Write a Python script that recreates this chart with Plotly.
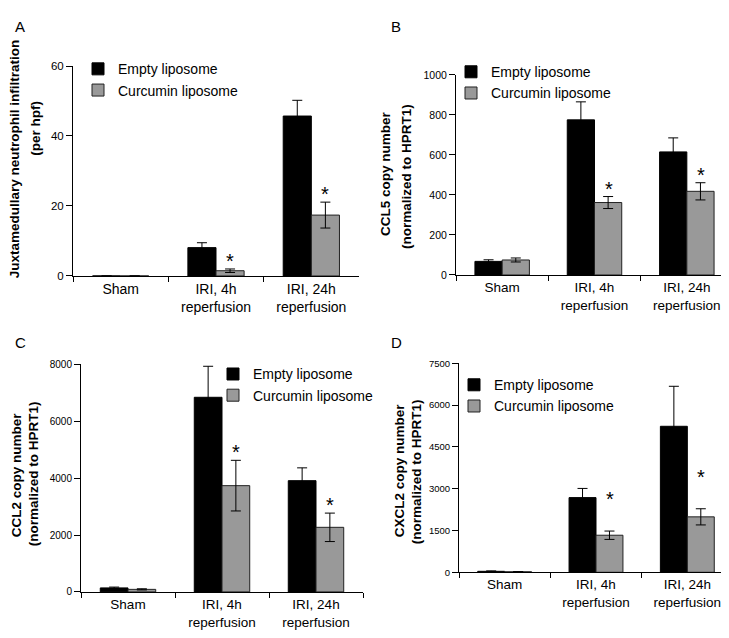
import plotly.graph_objects as go

W, H = 729, 638

categories = ["Sham", "IRI, 4h<br>reperfusion", "IRI, 24h<br>reperfusion"]
series_names = ["Empty liposome", "Curcumin liposome"]

# Panel A: juxtamedullary neutrophil infiltration (per hpf)
a_empty = [0, 8.1, 45.7]
a_empty_err = [0, 1.4, 4.5]
a_curc = [0, 1.5, 17.4]
a_curc_err = [0, 0.5, 3.7]

# Panel B: CCL5
b_empty = [68, 775, 615]
b_empty_err = [8, 90, 70]
b_curc = [75, 362, 418]
b_curc_err = [10, 30, 43]

# Panel C: CCL2
c_empty = [140, 6840, 3910]
c_empty_err = [30, 1090, 450]
c_curc = [90, 3735, 2270]
c_curc_err = [20, 890, 500]

# Panel D: CXCL2
d_empty = [35, 2680, 5240]
d_empty_err = [15, 330, 1435]
d_curc = [20, 1330, 1990]
d_curc_err = [5, 150, 290]

# significance markers (index of categories with * on curcumin bar)
sig_idx = [1, 2]

y_titles = [
    ("Juxtamedullary neutrophil infiltration", "(per hpf)"),
    ("CCL5 copy number", "(normalized to HPRT1)"),
    ("CCL2 copy number", "(normalized to HPRT1)"),
    ("CXCL2 copy number", "(normalized to HPRT1)"),
]
y_ranges = [(0, 60), (0, 1000), (0, 8000), (0, 7500)]
y_dticks = [20, 200, 2000, 1500]
panel_letters = ["A", "B", "C", "D"]

panels = [
    (a_empty, a_empty_err, a_curc, a_curc_err),
    (b_empty, b_empty_err, b_curc, b_curc_err),
    (c_empty, c_empty_err, c_curc, c_curc_err),
    (d_empty, d_empty_err, d_curc, d_curc_err),
]

# layout geometry in pixels (left, right, top, bottom)
boxes = [(65, 351, 53, 267), (448, 725, 62, 266), (73, 355, 357, 589), (451, 725, 356, 569)]
legend_pos = [(70, 40), (443, 43), (205, 351), (446, 362)]
letter_pos = [(12, 13), (388, 13), (12, 335), (388, 335)]
# y-title line centres: (x line1, x line2, y centre line1, y centre line2)
title_pos = [(6, 28, 148, 117), (378, 399, 163, 165), (8, 25, 470, 469), (391, 408, 465, 467)]
ytick_size = [11.5, 10.5, 10, 9.5]
xtick_size = [14, 13.5, 13.5, 13.5]
star_shift = [0, 0, 0, 24]

FONT = "Liberation Sans, Arial, sans-serif"
BLACK = "#000000"
GREY = "#999999"

fig = go.Figure()
layout = dict(
    width=W, height=H, margin=dict(l=0, r=0, t=0, b=0),
    paper_bgcolor="white", plot_bgcolor="white",
    barmode="group", bargap=0.41, bargroupgap=0,
    font=dict(family=FONT, size=12, color="black"),
    annotations=[],
)

for i, (emp, emp_err, cur, cur_err) in enumerate(panels):
    n = "" if i == 0 else str(i + 1)
    xa, ya = "x" + n, "y" + n
    lg = "legend" + n
    fig.add_trace(go.Bar(
        x=categories, y=emp, name=series_names[0], xaxis=xa, yaxis=ya, legend=lg,
        marker=dict(color=BLACK, line=dict(color=BLACK, width=1)),
        error_y=dict(type="data", array=emp_err, color=BLACK, thickness=1, width=5),
    ))
    fig.add_trace(go.Bar(
        x=categories, y=cur, name=series_names[1], xaxis=xa, yaxis=ya, legend=lg,
        marker=dict(color=GREY, line=dict(color="#222222", width=1)),
        error_y=dict(type="data", array=cur_err, color=BLACK, thickness=1, width=5),
    ))
    l, r, t, b = boxes[i]
    layout["xaxis" + n] = dict(
        domain=[l / W, r / W], anchor=ya, type="category",
        showline=True, linecolor="black", linewidth=1,
        ticks="outside", ticklen=5, tickcolor="black", tickson="boundaries",
        tickfont=dict(size=xtick_size[i]), showgrid=False, zeroline=False, fixedrange=True,
    )
    layout["yaxis" + n] = dict(
        domain=[1 - b / H, 1 - t / H], anchor=xa, range=list(y_ranges[i]),
        dtick=y_dticks[i], showline=True, linecolor="black", linewidth=1,
        ticks="outside", ticklen=6, tickcolor="black", tickfont=dict(size=ytick_size[i]),
        showgrid=False, zeroline=False,
    )
    lx, ly = legend_pos[i]
    layout[lg] = dict(
        x=lx / W, y=1 - ly / H, xanchor="left", yanchor="top",
        bgcolor="rgba(0,0,0,0)", font=dict(size=14), tracegroupgap=0,
        itemwidth=30,
    )
    for k in sig_idx:
        layout["annotations"].append(dict(
            x=categories[k], y=cur[k] + cur_err[k], xref=xa, yref=ya,
            text="*", showarrow=False, xshift=14, yshift=star_shift[i] - 5,
            yanchor="bottom", font=dict(size=20, color="black"),
        ))
    px_, py_ = letter_pos[i]
    layout["annotations"].append(dict(
        x=px_ / W, y=1 - py_ / H, xref="paper", yref="paper", text=panel_letters[i],
        showarrow=False, xanchor="center", yanchor="middle", font=dict(size=15),
    ))
    x1, x2, yc1, yc2 = title_pos[i]
    for txt, tx, ty in ((y_titles[i][0], x1, yc1), (y_titles[i][1], x2, yc2)):
        layout["annotations"].append(dict(
            x=tx / W, y=1 - ty / H, xref="paper", yref="paper",
            text="<b>" + txt + "</b>", textangle=-90, showarrow=False,
            xanchor="center", yanchor="middle", font=dict(size=13.5),
        ))

fig.update_layout(**layout)
fig.write_html("out.html")
